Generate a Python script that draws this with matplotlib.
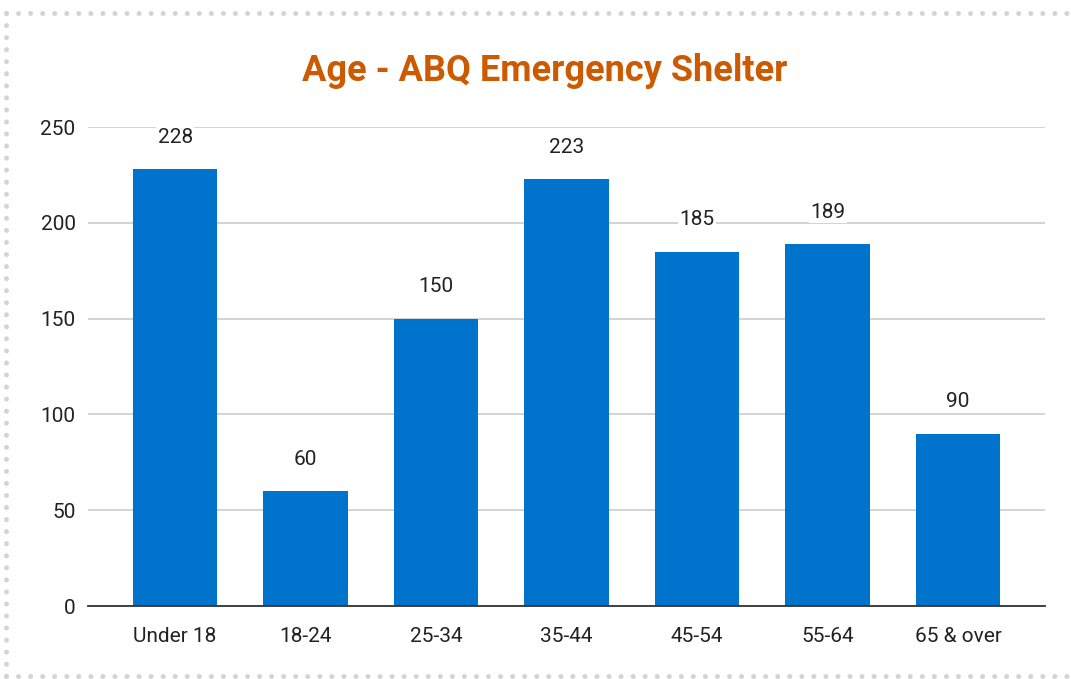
import matplotlib.pyplot as plt
from matplotlib.lines import Line2D

# Datos del gráfico
categorias = ['Under 18', '18-24', '25-34', '35-44', '45-54', '55-64', '65 & over']
valores = [228, 60, 150, 223, 185, 189, 90]
yticks = [0, 50, 100, 150, 200, 250]

plt.rcParams['font.family'] = ['Roboto', 'DejaVu Sans']

fig = plt.figure(figsize=(10.71, 6.79), dpi=100)
ax = fig.add_axes([0.0822, 0.1075, 0.8936, 0.7054])

x = range(len(categorias))
ax.bar(x, valores, width=0.65, color='#0074cd', zorder=2)

for xi, v in zip(x, valores):
    ax.annotate(str(v), (xi, v), xytext=(0, 16), textcoords='offset points',
                ha='center', va='bottom', fontsize=15, color='#222222',
                bbox=dict(facecolor='white', edgecolor='none', pad=1), zorder=3)

ax.set_xlim(-0.667, len(categorias) - 1 + 0.667)
ax.set_ylim(0, 250)
ax.set_yticks(yticks)
ax.set_xticks(list(x))
ax.set_xticklabels(categorias)
ax.tick_params(axis='both', length=0, labelsize=15, colors='#222222')
ax.tick_params(axis='y', pad=9)
ax.tick_params(axis='x', pad=15)
ax.grid(axis='y', color='#cccccc', linewidth=1.2, zorder=0)
ax.set_axisbelow(True)
for s in ['top', 'right', 'left']:
    ax.spines[s].set_visible(False)
ax.spines['bottom'].set_color('#333333')
ax.spines['bottom'].set_linewidth(1.3)
ax.spines['bottom'].set_zorder(4)

fig.text(0.509, 0.896, 'Age - ABQ Emergency Shelter', ha='center', va='center',
         fontsize=26, fontweight='bold', color='#cc5a00')

# Borde punteado
estilo = dict(color='#d4d4d4', linewidth=3.6, linestyle=(0, (0.01, 2.4)),
              dash_capstyle='round', solid_capstyle='round')
fig.add_artist(Line2D([0.006, 1.0], [0.981, 0.981], transform=fig.transFigure, **estilo))
fig.add_artist(Line2D([0.006, 0.006], [0.981, 0.0], transform=fig.transFigure, **estilo))
fig.add_artist(Line2D([0.006, 1.0], [0.004, 0.004], transform=fig.transFigure, **estilo))

fig.savefig('out.png', dpi=100)
